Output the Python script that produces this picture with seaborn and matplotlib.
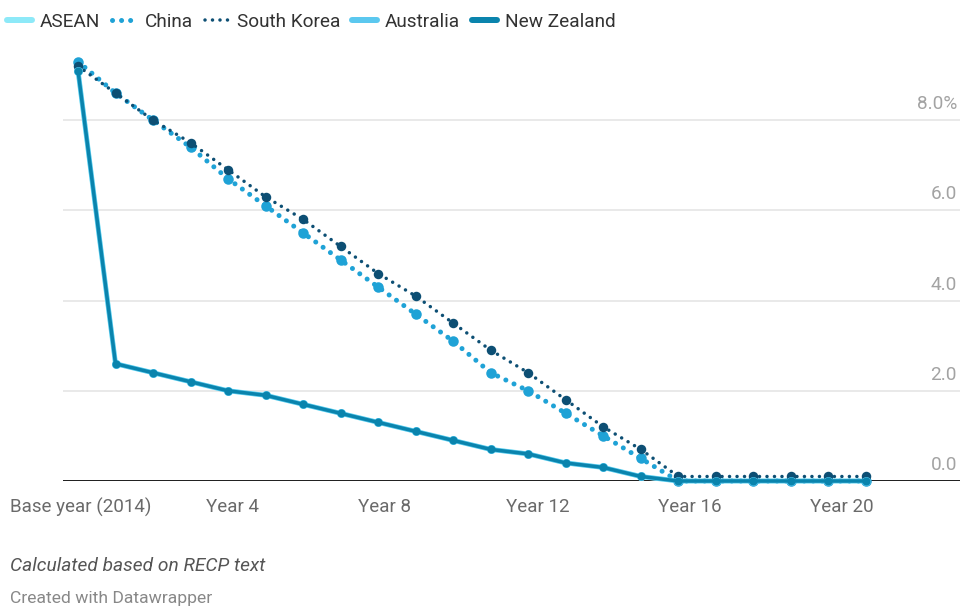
import matplotlib
matplotlib.use("Agg")
import matplotlib.pyplot as plt
from matplotlib.lines import Line2D
import pandas as pd
import seaborn as sns

# ---- data -------------------------------------------------------------
years = list(range(22))

asean = [9.1, 2.6, 2.4, 2.2, 2.0, 1.9, 1.7, 1.5, 1.3, 1.1, 0.9,
         0.7, 0.6, 0.4, 0.3, 0.1, 0.0, 0.0, 0.0, 0.0, 0.0, 0.0]
china = [9.3, 8.6, 8.0, 7.4, 6.7, 6.1, 5.5, 4.9, 4.3, 3.7, 3.1,
         2.4, 2.0, 1.5, 1.0, 0.5, 0.0, 0.0, 0.0, 0.0, 0.0, 0.0]
south_korea = [9.2, 8.6, 8.0, 7.5, 6.9, 6.3, 5.8, 5.2, 4.6, 4.1, 3.5,
               2.9, 2.4, 1.8, 1.2, 0.7, 0.1, 0.1, 0.1, 0.1, 0.1, 0.1]
australia = [9.1, 2.6, 2.4, 2.2, 2.0, 1.9, 1.7, 1.5, 1.3, 1.1, 0.9,
             0.7, 0.6, 0.4, 0.3, 0.1, 0.0, 0.0, 0.0, 0.0, 0.0, 0.0]
new_zealand = [9.1, 2.6, 2.4, 2.2, 2.0, 1.9, 1.7, 1.5, 1.3, 1.1, 0.9,
               0.7, 0.6, 0.4, 0.3, 0.1, 0.0, 0.0, 0.0, 0.0, 0.0, 0.0]

series_names = ["ASEAN", "China", "South Korea", "Australia", "New Zealand"]
series_values = [asean, china, south_korea, australia, new_zealand]

x_tick_pos = [0.06, 4.13, 8.17, 12.25, 16.3, 20.35]
x_tick_labels = ["Base year (2014)", "Year 4", "Year 8", "Year 12", "Year 16", "Year 20"]
y_ticks = [0, 2, 4, 6, 8]
y_tick_labels = ["0.0", "2.0", "4.0", "6.0", "8.0%"]

df = pd.DataFrame(
    [(name, yr, v) for name, vals in zip(series_names, series_values)
     for yr, v in zip(years, vals)],
    columns=["country", "year", "rate"],
)

# ---- styling ------------------------------------------------------------
sns.set_theme(style="white")
plt.rcParams["font.family"] = ["Roboto", "DejaVu Sans"]

PX = 72 / 100  # points per pixel at 100 dpi

dot_china = (0, (0.01, 1.8))
dot_korea = (0, (0.01, 2.13))

styles = {
    "ASEAN": dict(color="#8de9f8", lw=5.0 * PX, ls="-", ms=9 * PX),
    "China": dict(color="#1fa2d6", lw=5 * PX, ls=dot_china, ms=10.5 * PX),
    "South Korea": dict(color="#0d4f74", lw=3.5 * PX, ls=dot_korea, ms=9.5 * PX),
    "Australia": dict(color="#5bc8ef", lw=4.5 * PX, ls="-", ms=9 * PX),
    "New Zealand": dict(color="#0a84ad", lw=3.5 * PX, ls="-", ms=8 * PX),
}

fig = plt.figure(figsize=(9.6, 6.08), dpi=100)
ax = fig.add_axes([63 / 960, 1 - 481 / 608, 897 / 960, 433 / 608])

ax.axhline(0, color="#222222", lw=2 * PX, zorder=1.5)

for name in series_names:
    st = styles[name]
    sns.lineplot(
        data=df[df["country"] == name], x="year", y="rate", ax=ax,
        color=st["color"], linewidth=st["lw"], linestyle=st["ls"],
        marker="o", markersize=st["ms"], markeredgewidth=0,
        dash_capstyle="round", solid_capstyle="round", solid_joinstyle="round",
        clip_on=False, legend=False, errorbar=None, sort=False, zorder=3,
    )

ax.set_xlim(-0.4, 23.507)
ax.set_ylim(0, 9.6)
ax.set_xlabel("")
ax.set_ylabel("")
for s in ax.spines.values():
    s.set_visible(False)

ax.set_yticks(y_ticks)
ax.set_yticklabels([])
ax.tick_params(axis="y", length=0)
ax.yaxis.grid(True, color="#e2e2e2", lw=1.5 * PX)
ax.xaxis.grid(False)
ax.set_axisbelow(True)

for v, lab in zip(y_ticks, y_tick_labels):
    ax.annotate(lab, xy=(1, v), xycoords=("axes fraction", "data"),
                xytext=(-3 * PX, 16 * PX), textcoords="offset points",
                ha="right", va="center", fontsize=13.7, color="#a3a3a3")

ax.set_xticks(x_tick_pos)
ax.set_xticklabels(x_tick_labels)
ax.tick_params(axis="x", length=0, pad=12, labelsize=13.5, labelcolor="#6a6a6a")

# legend across the top
handles = []
for name in series_names:
    st = styles[name]
    if st["ls"] == "-":
        h = Line2D([], [], color=st["color"], lw=6 * PX, solid_capstyle="round")
    else:
        h = Line2D([], [], color=st["color"], lw=st["lw"], linestyle=st["ls"],
                   dash_capstyle="round")
    handles.append(h)

fig.legend(handles, series_names, loc="upper left",
           bbox_to_anchor=(7 / 960, 1 - 13 / 608), ncol=5, frameon=False,
           fontsize=13.7, handlelength=1.3, handletextpad=0.42,
           columnspacing=0.62, borderpad=0, borderaxespad=0,
           labelcolor="#333333")

fig.text(10 / 960, 1 - 566 / 608, "Calculated based on RECP text",
         style="italic", fontsize=13.8, color="#555555", va="center", ha="left")
fig.text(10 / 960, 1 - 598 / 608, "Created with Datawrapper",
         fontsize=12.6, color="#888888", va="center", ha="left")

fig.savefig("out.png", dpi=100)
